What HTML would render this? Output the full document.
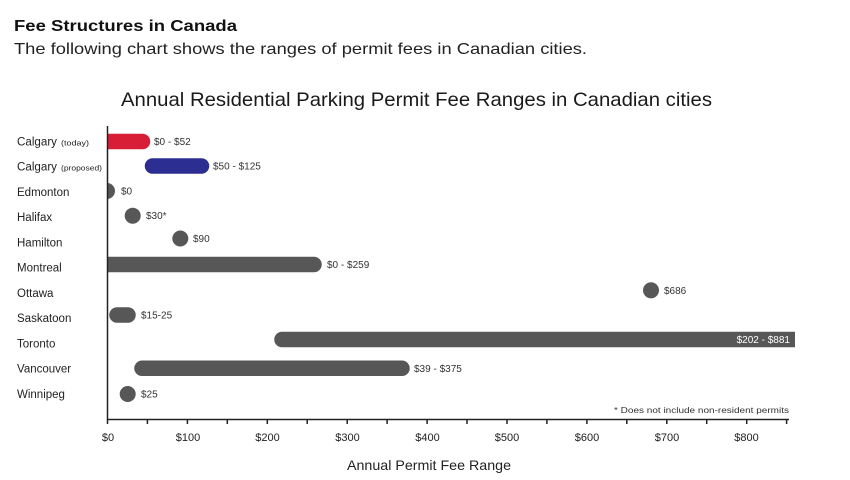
<!DOCTYPE html>
<html><head><meta charset="utf-8"><style>
html,body{margin:0;padding:0;background:#fff;width:850px;height:480px;overflow:hidden}
svg{display:block}
text{font-family:"Liberation Sans",Arial,sans-serif}
</style></head><body>
<svg width="850" height="480" viewBox="0 0 850 480" xmlns="http://www.w3.org/2000/svg">
<defs><clipPath id="c"><rect x="108" y="120" width="687" height="300"/></clipPath></defs>
<text x="14" y="31" font-size="16" font-weight="bold" fill="#111" textLength="223" lengthAdjust="spacingAndGlyphs">Fee Structures in Canada</text>
<text x="14" y="54" font-size="16" fill="#222" textLength="573" lengthAdjust="spacingAndGlyphs">The following chart shows the ranges of permit fees in Canadian cities.</text>
<text x="121" y="106" font-size="19.5" fill="#1a1a1a" textLength="591" lengthAdjust="spacingAndGlyphs">Annual Residential Parking Permit Fee Ranges in Canadian cities</text>

<g font-size="11.5" fill="#222">
<text x="17" y="145.5" textLength="40" lengthAdjust="spacingAndGlyphs">Calgary</text><text x="61" y="145.5" font-size="7" textLength="28" lengthAdjust="spacingAndGlyphs">(today)</text>
<text x="17" y="170.7" textLength="40" lengthAdjust="spacingAndGlyphs">Calgary</text><text x="61" y="170.7" font-size="7" textLength="41" lengthAdjust="spacingAndGlyphs">(proposed)</text>
<text x="17" y="196">Edmonton</text>
<text x="17" y="221.2">Halifax</text>
<text x="17" y="246.5">Hamilton</text>
<text x="17" y="271.7">Montreal</text>
<text x="17" y="297">Ottawa</text>
<text x="17" y="322.2">Saskatoon</text>
<text x="17" y="347.5">Toronto</text>
<text x="17" y="372.7">Vancouver</text>
<text x="17" y="398">Winnipeg</text>
</g>

<g clip-path="url(#c)">
<g stroke-linecap="round" stroke-width="15.5">
<line x1="90" y1="141.5" x2="142.5" y2="141.5" stroke="#d81e37"/>
<line x1="152.5" y1="166" x2="201.5" y2="166" stroke="#2c2f91"/>
<line x1="90" y1="264.5" x2="314" y2="264.5" stroke="#575757"/>
<line x1="117" y1="315" x2="128" y2="315" stroke="#575757"/>
<line x1="282" y1="339.5" x2="820" y2="339.5" stroke="#575757"/>
<line x1="142" y1="368.3" x2="402" y2="368.3" stroke="#575757"/>
</g>
<g fill="#575757">
<circle cx="107" cy="191" r="8"/>
<circle cx="132.7" cy="215.7" r="8"/>
<circle cx="180.3" cy="238.5" r="8"/>
<circle cx="651" cy="290.3" r="8"/>
<circle cx="127.7" cy="394" r="8"/>
</g>
</g>

<g font-size="10" fill="#333">
<text x="154" y="145">$0 - $52</text>
<text x="213" y="169.5">$50 - $125</text>
<text x="121" y="194.5">$0</text>
<text x="146" y="219">$30*</text>
<text x="193" y="242">$90</text>
<text x="327" y="268">$0 - $259</text>
<text x="664" y="294">$686</text>
<text x="141" y="318.5">$15-25</text>
<text x="790" y="343" text-anchor="end" fill="#fff">$202 - $881</text>
<text x="414" y="372">$39 - $375</text>
<text x="141" y="397.5">$25</text>
<text x="789" y="413" font-size="8" text-anchor="end" textLength="175" lengthAdjust="spacingAndGlyphs">* Does not include non-resident permits</text>
</g>

<g stroke="#222" stroke-width="1.5" fill="none">
<line x1="107.5" y1="126" x2="107.5" y2="419.5"/>
<line x1="107" y1="419.5" x2="789" y2="419.5"/>
<path d="M107.5 419v5 M147.4 419v5 M187.4 419v5 M227.3 419v5 M267.3 419v5 M307.2 419v5 M347.2 419v5 M387.1 419v5 M427.1 419v5 M467 419v5 M507 419v5 M546.9 419v5 M586.9 419v5 M626.8 419v5 M666.8 419v5 M706.7 419v5 M746.7 419v5 M786.6 419v5"/>
</g>
<g font-size="11" fill="#222" text-anchor="middle">
<text x="108" y="441">$0</text>
<text x="188" y="441">$100</text>
<text x="267.5" y="441">$200</text>
<text x="347.5" y="441">$300</text>
<text x="427.5" y="441">$400</text>
<text x="507" y="441">$500</text>
<text x="587" y="441">$600</text>
<text x="667" y="441">$700</text>
<text x="746.5" y="441">$800</text>
</g>
<text x="429" y="470" font-size="14" fill="#222" text-anchor="middle" textLength="164" lengthAdjust="spacingAndGlyphs">Annual Permit Fee Range</text>
</svg>
</body></html>
